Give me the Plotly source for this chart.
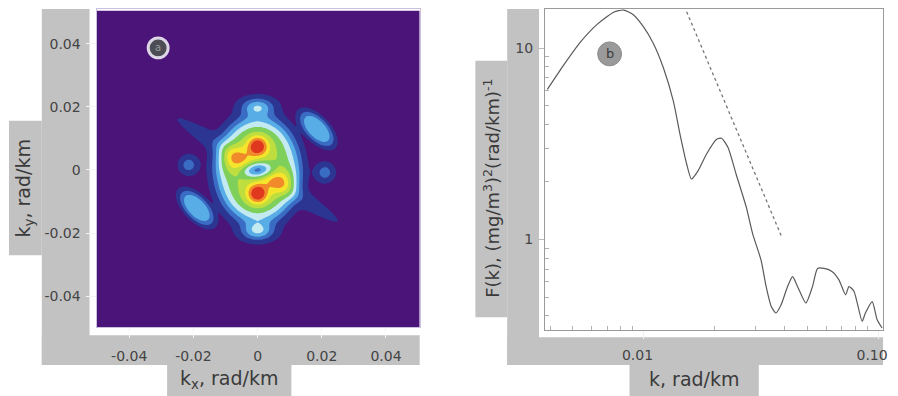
import numpy as np
import plotly.graph_objects as go

# page body has an 8px margin: the figure is drawn 8px right/down of the window corner
OFF = 8
W, H = 898 - OFF, 396 - OFF

# ---------------- Panel a: 2-D spectrum features (rad/km) ----------------
# order: plateau, skirt, upper/lower maxima (narrow), upper/lower shoulders, side lobes,
#        central minimum, diagonal streak, top/bottom satellites, diagonal satellites, small side satellites
blob_kx  = [0.0,    0.0,   0.0,    0.0,     0.0,    0.0,     -0.0075, 0.0075,  0.0,    0.0,    0.0,    0.0,    0.0185, -0.019, -0.0215, 0.021]
blob_ky  = [0.0,    0.0,   0.0075, -0.0075, 0.0075, -0.0075, 0.0028,  -0.0032, 0.0,    0.0,    0.020,  -0.0195, 0.013, -0.012, 0.0016,  -0.0008]
blob_amp = [0.45,   0.05,  0.36,   0.36,    0.15,   0.15,    0.19,    0.19,    -0.50,  0.12,   0.31,   0.31,   0.32,   0.32,   0.20,    0.20]
blob_sa  = [0.0095, 0.011, 0.0020, 0.0020,  0.0050, 0.0050,  0.0030,  0.0030,  0.0032, 0.022,  0.0035, 0.0035, 0.0050, 0.0050, 0.0020,  0.0020]
blob_sb  = [0.0120, 0.014, 0.0020, 0.0020,  0.0050, 0.0050,  0.0030,  0.0030,  0.0018, 0.0020, 0.0020, 0.0020, 0.0025, 0.0025, 0.0020,  0.0020]
blob_ang = [0,      0,     0,      0,       0,      0,       0,       0,       0,      -33,    0,      0,      -47,    -47,    0,       0]
blob_pow = [3,      1,     1,      1,       1,      1,       1,       1,       1,      1,      1,      1,      2,      2,      1,       1]

ax_ticks = [-0.04, -0.02, 0, 0.02, 0.04]
ax_ticktext = ["-0.04", "-0.02", "0", "0.02", "0.04"]

# ---------------- Panel b: isotropic spectrum ----------------
k_vals = [0.00389, 0.00458, 0.0054, 0.00634, 0.00746, 0.00822, 0.00907, 0.0100, 0.0110, 0.01216,
          0.0134, 0.0143, 0.01527, 0.0160, 0.0171, 0.01854, 0.0205, 0.0215, 0.0229, 0.0248,
          0.0274, 0.0292, 0.0317, 0.0333, 0.0350, 0.0367, 0.0386, 0.0411, 0.0432, 0.0454,
          0.0492, 0.0525, 0.0552, 0.0589, 0.0638, 0.0681, 0.0727, 0.0751, 0.0789, 0.0855,
          0.0883, 0.0944, 0.0991, 0.104]
F_vals = [6.08, 8.19, 10.8, 13.3, 15.4, 15.8, 14.9, 12.9, 10.6, 7.87,
          5.28, 3.55, 2.48, 2.07, 2.29, 2.79, 3.34, 3.38, 3.03, 2.20,
          1.48, 1.07, 0.78, 0.57, 0.448, 0.413, 0.456, 0.567, 0.64, 0.567,
          0.466, 0.567, 0.706, 0.706, 0.679, 0.615, 0.514, 0.567, 0.537, 0.374,
          0.413, 0.474, 0.381, 0.345]
ref_k = [0.01527, 0.0386]
ref_F = [15.5, 1.05]
bx_ticks = [0.01, 0.1]
bx_ticktext = ["0.01", "0.10"]
by_ticks = [1, 10]
by_ticktext = ["1", "10"]

# ---------------- build field ----------------
grid = np.arange(-0.0505, 0.05051, 0.0005)
KX, KY = np.meshgrid(grid, grid)
Z = np.zeros_like(KX)
for x0, y0, a, sa, sb, ang, p in zip(blob_kx, blob_ky, blob_amp, blob_sa, blob_sb, blob_ang, blob_pow):
    t = np.deg2rad(ang)
    dx, dy = KX - x0, KY - y0
    u = np.cos(t) * dx + np.sin(t) * dy
    v = -np.sin(t) * dx + np.cos(t) * dy
    q = u ** 2 / (2 * sa ** 2) + v ** 2 / (2 * sb ** 2)
    Z += a * np.exp(-q ** p)

band_colors = ["#4a1478", "#2c3591", "#3b6cc3", "#58ade6", "#c2eaf0",
               "#7fd05a", "#bedd3e", "#f4e42c", "#f08a2a", "#e0381f"]
n = len(band_colors)
cscale = []
for i, c in enumerate(band_colors):
    lo = max(0.0, (i - 0.5) / (n - 1))
    hi = min(1.0, (i + 0.5) / (n - 1))
    cscale.append([lo, c])
    cscale.append([hi, c])

fig = go.Figure()
fig.add_trace(go.Contour(
    x=grid, y=grid, z=Z, xaxis="x", yaxis="y",
    autocontour=False,
    contours=dict(start=0.05, end=0.85, size=0.1, coloring="fill", showlines=False),
    colorscale=cscale, showscale=False, line=dict(width=0), hoverinfo="skip"))

fig.add_trace(go.Scatter(x=k_vals, y=F_vals, mode="lines", xaxis="x2", yaxis="y2",
                         line=dict(color="#5a5a5a", width=1.2, shape="spline", smoothing=0.6)))
fig.add_trace(go.Scatter(x=ref_k, y=ref_F, mode="lines", xaxis="x2", yaxis="y2",
                         line=dict(color="#777777", width=1.3, dash="dot")))


def px(x):
    return (x - OFF) / W


def py(y):
    return 1 - (y - OFF) / H


GRAY = "#c2c2c2"
rects = [
    # panel a
    (42, 8, 90, 365), (42, 335, 422, 365), (9, 120, 42, 255), (168, 365, 293, 396),
    # panel b
    (510, 8, 542, 365), (510, 337, 888, 365), (478, 60, 510, 317), (633, 365, 763, 396),
]
shapes = []
for x0, y0, x1, y1 in rects:
    shapes.append(dict(type="rect", xref="paper", yref="paper", x0=px(x0), x1=px(x1),
                       y0=py(y1), y1=py(y0), fillcolor=GRAY, line=dict(width=0), layer="below"))
# circled panel labels
shapes.append(dict(type="circle", xref="paper", yref="paper", x0=px(149), x1=px(169),
                   y0=py(57), y1=py(37), fillcolor="#4d4d55", line=dict(color="#dcd6e6", width=3)))
shapes.append(dict(type="circle", xref="paper", yref="paper", x0=px(601), x1=px(625),
                   y0=py(65), y1=py(41), fillcolor="#9a9a9a", line=dict(color="#8a8a8a", width=1)))

FONT = "DejaVu Sans"
TXT = "#3a3a3a"
ann = [
    dict(x=px(159), y=py(47), text="a", font=dict(family=FONT, size=10, color="#9a9a9a")),
    dict(x=px(613), y=py(53), text="b", font=dict(family=FONT, size=13, color="#3c3c3c")),
    dict(x=px(230), y=py(379), text="k<sub>x</sub>, rad/km", font=dict(family=FONT, size=19, color=TXT)),
    dict(x=px(25), y=py(188), text="k<sub>y</sub>, rad/km", textangle=-90,
         font=dict(family=FONT, size=19, color=TXT)),
    dict(x=px(698), y=py(379), text="k, rad/km", font=dict(family=FONT, size=19, color=TXT)),
    dict(x=px(494), y=py(188), text="F(k), (mg/m<sup>3</sup>)<sup>2</sup>(rad/km)<sup>-1</sup>",
         textangle=-90, font=dict(family=FONT, size=18, color=TXT)),
]
for a in ann:
    a.update(xref="paper", yref="paper", showarrow=False, xanchor="center", yanchor="middle")

tickfont = dict(family=FONT, size=14, color="#444444")

fig.update_layout(
    width=W, height=H, margin=dict(l=0, r=0, t=0, b=0),
    paper_bgcolor="white", plot_bgcolor="white", showlegend=False,
    shapes=shapes, annotations=ann,
    xaxis=dict(domain=[px(97), px(422)], range=[-0.0502, 0.0505], tickvals=ax_ticks,
               ticktext=ax_ticktext, ticks="outside", ticklen=10, tickcolor="#f4f4f4",
               tickfont=tickfont, showgrid=False, zeroline=False, showline=True,
               linecolor="#cbbfe0", linewidth=1, mirror=True, anchor="y", ticklabelstandoff=6),
    yaxis=dict(domain=[py(327), py(8)], range=[-0.0498, 0.051], tickvals=ax_ticks,
               ticktext=ax_ticktext, ticks="outside", ticklen=10, tickcolor="#f4f4f4",
               tickfont=tickfont, showgrid=False, zeroline=False, showline=True,
               linecolor="#cbbfe0", linewidth=1, mirror=True, anchor="x", ticklabelstandoff=2),
    xaxis2=dict(type="log", domain=[px(548), px(888)], range=[np.log10(0.0038), np.log10(0.105)],
                tickvals=bx_ticks, ticktext=bx_ticktext, ticks="outside", ticklen=8,
                tickcolor="#f0f0f0", tickfont=tickfont, showgrid=False, zeroline=False,
                showline=True, linecolor="#9a9a9a", linewidth=1, mirror=True, anchor="y2",
                ticklabelstandoff=4, ticklabelshift=-6, ticklabeloverflow="allow",
                minor=dict(tickvals=[0.004, 0.005, 0.006, 0.007, 0.008, 0.009, 0.02, 0.03, 0.04,
                                     0.05, 0.06, 0.07, 0.08, 0.09],
                           ticks="inside", ticklen=4, tickcolor="#b0b0b0", showgrid=False)),
    yaxis2=dict(type="log", domain=[py(330), py(8)], range=[np.log10(0.336), np.log10(16)],
                tickvals=by_ticks, ticktext=by_ticktext, ticks="outside", ticklen=6,
                tickcolor="#bbbbbb", tickfont=tickfont, showgrid=False, zeroline=False,
                showline=True, linecolor="#9a9a9a", linewidth=1, mirror=True, anchor="x2",
                ticklabelstandoff=2,
                minor=dict(tickvals=[0.4, 0.5, 0.6, 0.7, 0.8, 0.9, 2, 3, 4, 5, 6, 7, 8, 9],
                           ticks="inside", ticklen=4, tickcolor="#b0b0b0", showgrid=False)),
)

fig.write_html("out.html")
